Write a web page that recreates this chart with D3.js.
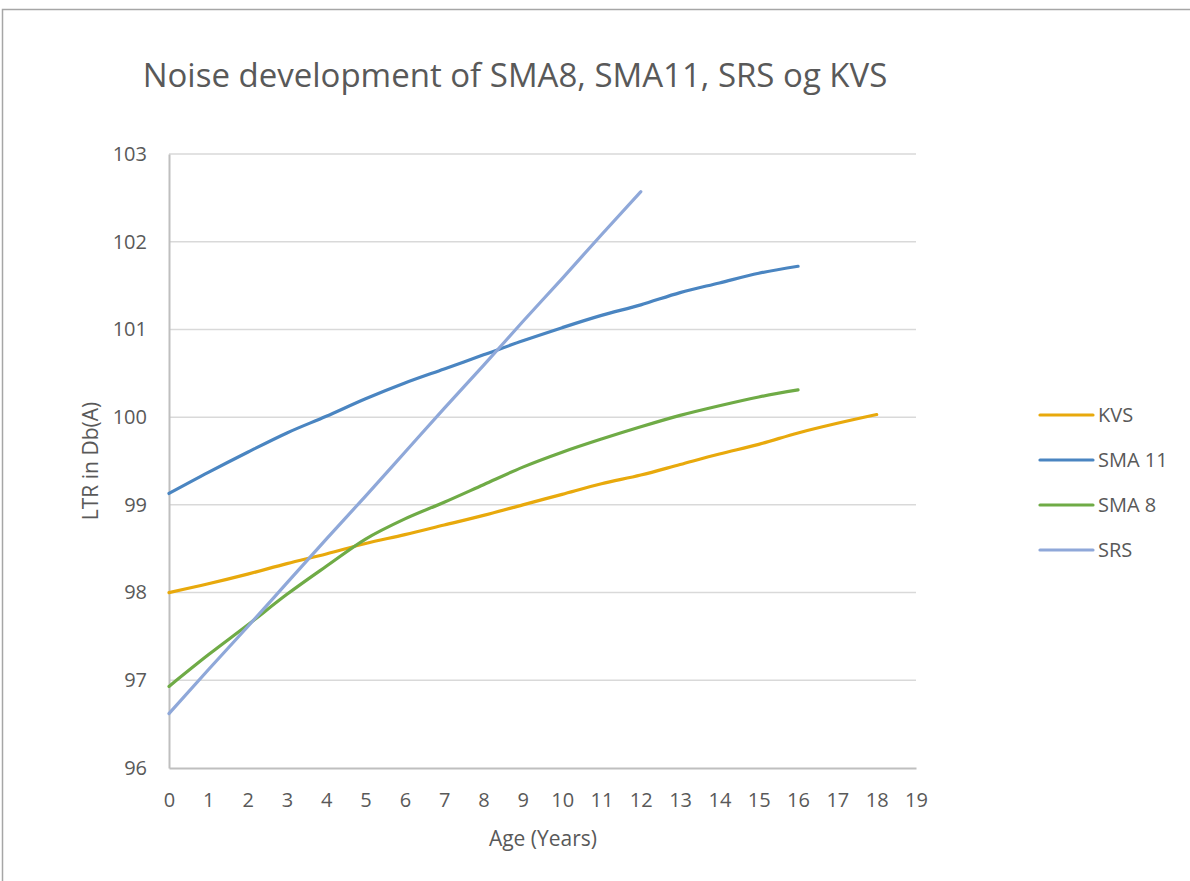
<!DOCTYPE html>
<html>
<head>
<meta charset="utf-8">
<script src="https://cdn.jsdelivr.net/npm/d3@7"></script>
<style>
  body { margin: 0; background: #fff; }
  svg { display: block; font-family: "Open Sans", sans-serif; }
</style>
</head>
<body>
<div id="chart"></div>
<script>
// ages (years) and readings, LTR in Db(A)
var years = [0, 1, 2, 3, 4, 5, 6, 7, 8, 9, 10, 11, 12, 13, 14, 15, 16, 17, 18];
var kvs   = [98.00, 98.10, 98.21, 98.33, 98.44, 98.56, 98.66, 98.77, 98.88, 99.00, 99.12, 99.24, 99.34, 99.46, 99.58, 99.69, 99.82, 99.93, 100.03];
var sma11 = [99.13, 99.37, 99.60, 99.82, 100.01, 100.21, 100.39, 100.55, 100.71, 100.87, 101.02, 101.16, 101.28, 101.42, 101.53, 101.64, 101.72];
var sma8  = [96.93, 97.29, 97.63, 97.98, 98.30, 98.61, 98.84, 99.03, 99.23, 99.43, 99.60, 99.75, 99.89, 100.02, 100.13, 100.23, 100.31];
var srs   = [96.62, 97.12, 97.61, 98.11, 98.61, 99.10, 99.60, 100.10, 100.59, 101.09, 101.58, 102.08, 102.57];

var seriesNames = ["KVS", "SMA 11", "SMA 8", "SRS"];
var seriesColors = ["#E8A90C", "#4A85C1", "#6FAB46", "#8FA8D9"];
var xTicks = d3.range(0, 20);
var yTicks = [96, 97, 98, 99, 100, 101, 102, 103];

var W = 1190, H = 881;
var pLeft = 169, pRight = 916, pTop = 154, pBottom = 768;

var svg = d3.select("#chart").append("svg")
    .attr("width", W)
    .attr("height", H);

// outer frame (only top and left edges show)
svg.append("rect")
    .attr("x", 2.5).attr("y", 9.5)
    .attr("width", W + 10).attr("height", H + 10)
    .attr("fill", "#fff")
    .attr("stroke", "#a6a6a6")
    .attr("stroke-width", 1.5);

var x = d3.scaleLinear().domain([0, 19]).range([pLeft, pRight]);
var y = d3.scaleLinear().domain([96, 103]).range([pBottom, pTop]);

// gridlines
svg.selectAll(".grid")
    .data(yTicks.slice(1))
    .enter().append("line")
    .attr("class", "grid")
    .attr("x1", pLeft).attr("x2", pRight)
    .attr("y1", function(d) { return y(d); })
    .attr("y2", function(d) { return y(d); })
    .attr("stroke", "#d9d9d9")
    .attr("stroke-width", 1.5);

// axes
var yAxis = svg.append("g")
    .attr("transform", "translate(" + pLeft + ",0)")
    .call(d3.axisLeft(y).tickValues(yTicks).tickSize(0).tickPadding(22).tickFormat(d3.format("d")));
var xAxis = svg.append("g")
    .attr("transform", "translate(0," + pBottom + ")")
    .call(d3.axisBottom(x).tickValues(xTicks).tickSize(0).tickPadding(25).tickFormat(d3.format("d")));

[yAxis, xAxis].forEach(function(a) {
    a.select(".domain").attr("stroke", "#bfbfbf").attr("stroke-width", 2);
    a.selectAll("text")
        .attr("fill", "#595959")
        .style("font-size", "20px")
        .style("font-family", "'Open Sans', sans-serif");
});

// series lines
var allSeries = [kvs, sma11, sma8, srs];
var line = d3.line()
    .x(function(d, i) { return x(years[i]); })
    .y(function(d) { return y(d); })
    .curve(d3.curveMonotoneX);

svg.selectAll(".series")
    .data(allSeries)
    .enter().append("path")
    .attr("class", "series")
    .attr("fill", "none")
    .attr("stroke", function(d, i) { return seriesColors[i]; })
    .attr("stroke-width", 3.2)
    .attr("stroke-linecap", "round")
    .attr("d", line);

// title
svg.append("text")
    .attr("x", 515).attr("y", 87)
    .attr("text-anchor", "middle")
    .attr("fill", "#595959")
    .style("font-size", "33px")
    .text("Noise development of SMA8, SMA11, SRS og KVS");

// axis titles
svg.append("text")
    .attr("transform", "translate(98," + ((pTop + pBottom) / 2) + ") rotate(-90)")
    .attr("text-anchor", "middle")
    .attr("fill", "#595959")
    .style("font-size", "21px")
    .text("LTR in Db(A)");

svg.append("text")
    .attr("x", 543).attr("y", 846)
    .attr("text-anchor", "middle")
    .attr("fill", "#595959")
    .style("font-size", "21px")
    .text("Age (Years)");

// legend
var legend = svg.selectAll(".legend")
    .data(seriesNames)
    .enter().append("g")
    .attr("class", "legend")
    .attr("transform", function(d, i) { return "translate(1040," + (415 + i * 45) + ")"; });

legend.append("line")
    .attr("x1", 0).attr("x2", 53)
    .attr("stroke", function(d, i) { return seriesColors[i]; })
    .attr("stroke-width", 3.2)
    .attr("stroke-linecap", "round");

legend.append("text")
    .attr("x", 58).attr("y", 7)
    .attr("fill", "#595959")
    .style("font-size", "20px")
    .text(function(d) { return d; });
</script>
</body>
</html>
